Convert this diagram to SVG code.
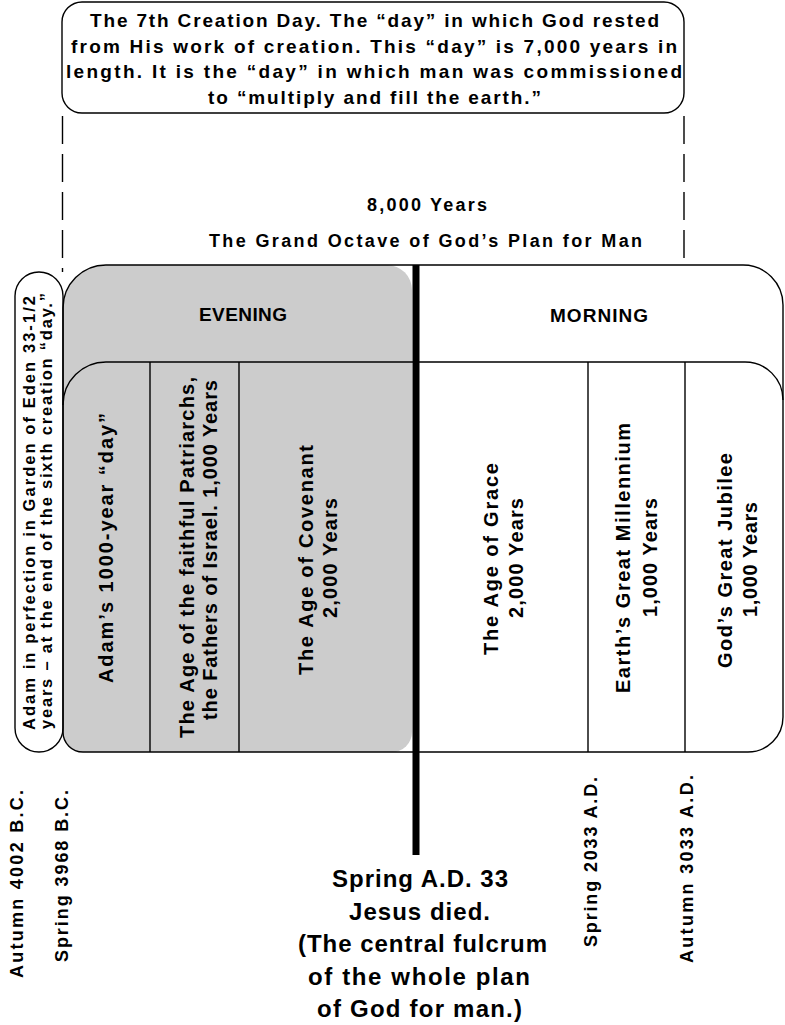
<svg xmlns="http://www.w3.org/2000/svg" width="785" height="1025" viewBox="0 0 785 1025">
<style>
.t{font-family:"Liberation Sans",Arial,Helvetica,sans-serif;font-weight:bold;fill:#000}
.ln{fill:none;stroke:#000;stroke-width:1.4}
.dash{fill:none;stroke:#000;stroke-width:1.4;stroke-dasharray:28 10}
.top{font-size:19px}
.ttl{font-size:18px}
.hd{font-size:19px}
.sm{font-size:16.5px}
.col{font-size:20px}
.dt{font-size:18px}
.ctr{font-size:24px}
</style>
<rect width="785" height="1025" fill="#fff"/>
<g id="connectors">
<line class="dash" x1="62.5" y1="116" x2="62.5" y2="272"/>
<line class="dash" x1="684" y1="116" x2="684" y2="265"/>
</g>
<g id="seventh-day">
<rect class="ln" x="62" y="2" width="622" height="111" rx="20" ry="20" fill="#fff"/>
<text class="t top" x="90" y="27" textLength="569" lengthAdjust="spacing">The 7th Creation Day. The “day” in which God rested</text>
<text class="t top" x="71" y="52.5" textLength="606" lengthAdjust="spacing">from His work of creation. This “day” is 7,000 years in</text>
<text class="t top" x="66" y="78" textLength="616" lengthAdjust="spacing">length. It is the “day” in which man was commissioned</text>
<text class="t top" x="208" y="103.5" textLength="333" lengthAdjust="spacing">to “multiply and fill the earth.”</text>
</g>
<g id="octave-title">
<text class="t ttl" x="367" y="211" textLength="120" lengthAdjust="spacing">8,000 Years</text>
<text class="t ttl" x="209" y="247" textLength="433" lengthAdjust="spacing">The Grand Octave of God’s Plan for Man</text>
</g>
<g id="main-box">
<path d="M63,308 A43,43 0 0 1 106,265 L743,265 A40,40 0 0 1 783,305 L783,717 A35,35 0 0 1 748,752 L83,752 A20,20 0 0 1 63,732 Z" fill="#fff" stroke="none"/>
<path d="M63,308 A43,43 0 0 1 106,265 L387,265 A25,25 0 0 1 412,290 L412,732 A20,20 0 0 1 392,752 L83,752 A20,20 0 0 1 63,732 Z" fill="#cccccc"/>
<path class="ln" d="M63,308 A43,43 0 0 1 106,265 L743,265 A40,40 0 0 1 783,305 L783,717 A35,35 0 0 1 748,752 L83,752 A20,20 0 0 1 63,732 Z"/>
<path class="ln" d="M63,405 A43,43 0 0 1 106,362 L745,362 A38,38 0 0 1 783,400"/>
<line class="ln" x1="150" y1="362" x2="150" y2="752"/>
<line class="ln" x1="239" y1="362" x2="239" y2="752"/>
<line class="ln" x1="588" y1="362" x2="588" y2="752"/>
<line class="ln" x1="685" y1="362" x2="685" y2="752"/>
</g>
<g id="evening">
<text class="t hd" x="243" y="321" text-anchor="middle" textLength="88" lengthAdjust="spacing">EVENING</text>
</g>
<g id="morning">
<text class="t hd" x="599" y="322" text-anchor="middle" textLength="98" lengthAdjust="spacing">MORNING</text>
</g>
<g id="adam-perfection">
<rect class="ln" x="15" y="272" width="48" height="480" rx="24" ry="24" fill="#fff"/>
<text class="t sm" transform="translate(35,730) rotate(-90)" textLength="434" lengthAdjust="spacing">Adam in perfection in Garden of Eden 33-1/2</text>
<text class="t sm" transform="translate(52,729) rotate(-90)" textLength="436" lengthAdjust="spacing">years – at the end of the sixth creation “day.”</text>
</g>
<g id="adam-day">
<text class="t col" transform="translate(113,683) rotate(-90)" textLength="270" lengthAdjust="spacing">Adam’s 1000-year “day”</text>
</g>
<g id="patriarchs">
<text class="t col" transform="translate(194,738) rotate(-90)" textLength="361" lengthAdjust="spacing">The Age of the faithful Patriarchs,</text>
<text class="t col" transform="translate(217,720) rotate(-90)" textLength="340" lengthAdjust="spacing">the Fathers of Israel. 1,000 Years</text>
</g>
<g id="covenant">
<text class="t col" transform="translate(313,675) rotate(-90)" textLength="230" lengthAdjust="spacing">The Age of Covenant</text>
<text class="t col" transform="translate(337,618) rotate(-90)" textLength="120" lengthAdjust="spacing">2,000 Years</text>
</g>
<g id="grace">
<text class="t col" transform="translate(498,655) rotate(-90)" textLength="192" lengthAdjust="spacing">The Age of Grace</text>
<text class="t col" transform="translate(523,618) rotate(-90)" textLength="120" lengthAdjust="spacing">2,000 Years</text>
</g>
<g id="millennium">
<text class="t col" transform="translate(630,693) rotate(-90)" textLength="270" lengthAdjust="spacing">Earth’s Great Millennium</text>
<text class="t col" transform="translate(657,617) rotate(-90)" textLength="119" lengthAdjust="spacing">1,000 Years</text>
</g>
<g id="jubilee">
<text class="t col" transform="translate(732,668) rotate(-90)" textLength="215" lengthAdjust="spacing">God’s Great Jubilee</text>
<text class="t col" transform="translate(757,617) rotate(-90)" textLength="115" lengthAdjust="spacing">1,000 Years</text>
</g>
<g id="fulcrum">
<line x1="416" y1="265" x2="416" y2="855" stroke="#000" stroke-width="7"/>
<text class="t ctr" x="332" y="887" textLength="176" lengthAdjust="spacing">Spring A.D. 33</text>
<text class="t ctr" x="349" y="919.5" textLength="141" lengthAdjust="spacing">Jesus died.</text>
<text class="t ctr" x="298" y="952" textLength="249" lengthAdjust="spacing">(The central fulcrum</text>
<text class="t ctr" x="308" y="984.5" textLength="222" lengthAdjust="spacing">of the whole plan</text>
<text class="t ctr" x="317" y="1017" textLength="205" lengthAdjust="spacing">of God for man.)</text>
</g>
<g id="dates">
<text class="t dt" transform="translate(23,978) rotate(-90)" textLength="188" lengthAdjust="spacing">Autumn 4002 B.C.</text>
<text class="t dt" transform="translate(68,962) rotate(-90)" textLength="172" lengthAdjust="spacing">Spring 3968 B.C.</text>
<text class="t dt" transform="translate(597,947) rotate(-90)" textLength="170" lengthAdjust="spacing">Spring 2033 A.D.</text>
<text class="t dt" transform="translate(693,963) rotate(-90)" textLength="188" lengthAdjust="spacing">Autumn 3033 A.D.</text>
</g>
</svg>
